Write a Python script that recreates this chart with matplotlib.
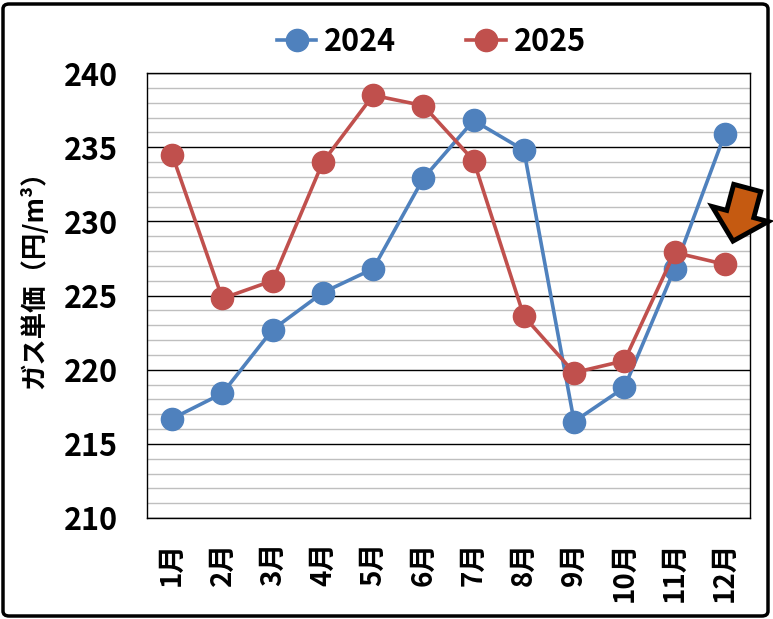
import numpy as np
import matplotlib
matplotlib.use('Agg')
import matplotlib.pyplot as plt
from matplotlib.patches import FancyBboxPatch, Polygon
from matplotlib.ticker import MultipleLocator

plt.rcParams['font.family'] = ['Noto Sans CJK JP', 'DejaVu Sans']
plt.rcParams['font.weight'] = 'bold'

months = ['1月', '2月', '3月', '4月', '5月', '6月',
          '7月', '8月', '9月', '10月', '11月', '12月']
price_2024 = [216.7, 218.4, 222.7, 225.2, 226.8, 232.9,
              236.8, 234.8, 216.5, 218.8, 226.8, 235.9]
price_2025 = [234.5, 224.8, 226.0, 234.0, 238.5, 237.8,
              234.1, 223.6, 219.8, 220.6, 227.9, 227.1]

blue = '#4F81BD'
red = '#C0504D'

fig = plt.figure(figsize=(7.73, 6.19), dpi=100)
ax = fig.add_axes([147 / 773, 1 - 518 / 619, 603 / 773, 445 / 619])

x = np.arange(len(months))
ax.plot(x, price_2024, color=blue, lw=2.6, marker='o', ms=16, label='2024', zorder=3)
ax.plot(x, price_2025, color=red, lw=2.6, marker='o', ms=16, label='2025', zorder=3)

ax.set_xlim(-0.5, len(months) - 0.5)
ax.set_ylim(210, 240)
ax.yaxis.set_major_locator(MultipleLocator(5))
ax.yaxis.set_minor_locator(MultipleLocator(1))
ax.grid(which='minor', axis='y', color='#BFBFBF', lw=1.0)
ax.grid(which='major', axis='y', color='black', lw=1.0)
ax.set_axisbelow(True)
for s in ax.spines.values():
    s.set_color('black')
    s.set_linewidth(1.0)

ax.set_xticks(x)
ax.set_xticklabels(months, rotation=90, fontsize=20, fontweight='bold')
ax.tick_params(axis='x', length=0, pad=17)
ax.tick_params(axis='y', which='major', length=0, pad=21, labelsize=22)
ax.tick_params(axis='y', which='minor', length=0)
for t in ax.get_yticklabels():
    t.set_fontweight('bold')

ax.set_ylabel('ガス単価（円/m³）', fontsize=19, fontweight='bold', labelpad=11)
ax.yaxis.label.set_y(0.55)

fig.legend(loc='center', bbox_to_anchor=(0.558, 1 - 42 / 619), ncol=2,
           frameon=False, prop={'size': 22, 'weight': 'bold'},
           handlelength=1.3, columnspacing=2.3, handletextpad=0.25)

# orange block arrow pointing down-left
shape = np.array([[-14, -28], [14, -28], [14, -1], [29, -1],
                  [0, 27], [-29, -1], [-14, -1]], dtype=float)
ang = np.deg2rad(15)
rot = np.array([[np.cos(ang), -np.sin(ang)], [np.sin(ang), np.cos(ang)]])
pts = shape @ rot.T
cx, cy = 740, 215
px = (cx + pts[:, 0]) / 773
py = 1 - (cy + pts[:, 1]) / 619
arrow = Polygon(np.column_stack([px, py]), closed=True, transform=fig.transFigure,
                facecolor='#C55A11', edgecolor='black', lw=3.5, joinstyle='miter',
                zorder=10)
fig.patches.append(arrow)

border = FancyBboxPatch((3 / 773, 3 / 619), 765 / 773, 612 / 619,
                        boxstyle='round,pad=0,rounding_size=0.008',
                        transform=fig.transFigure, facecolor='none',
                        edgecolor='black', lw=2.5)
fig.patches.append(border)

fig.savefig('out.png', dpi=100)
